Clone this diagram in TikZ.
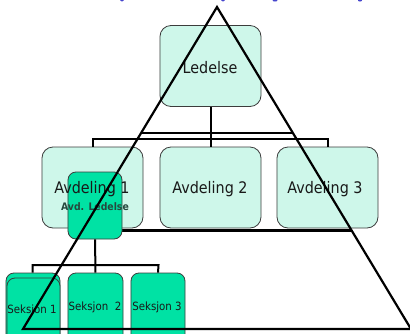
\documentclass[tikz,border=0pt]{standalone}
\usepackage{fontspec}
\setmainfont{DejaVu Sans Condensed}
\definecolor{mint}{RGB}{206,247,234}
\definecolor{seagreen}{RGB}{0,226,164}
\definecolor{boxline}{RGB}{60,60,60}
\definecolor{avdtext}{RGB}{38,72,62}
\definecolor{titleblue}{RGB}{70,70,205}
\tikzset{
  lightbox/.style={draw=boxline, line width=0.8bp, fill=mint, rounded corners=11bp,
    minimum width=101bp, minimum height=81bp, inner sep=0pt},
  darkbox/.style={draw=boxline, line width=0.8bp, fill=seagreen, rounded corners=8bp,
    inner sep=0pt},
  conn/.style={draw=black, line width=2bp},
  tri/.style={draw=black, line width=2.2bp, line join=miter},
  bigtxt/.style={font=\fontsize{16}{18}\selectfont, text=black!90, inner sep=0pt},
  smalltxt/.style={font=\fontsize{11.4}{13}\selectfont, text=black!90, inner sep=0pt},
}
\begin{document}
\begin{tikzpicture}[x=1bp,y=-1bp]
\useasboundingbox (0,0) rectangle (410,334);
\clip (0,0) rectangle (410,334);
% fragments of a cut-off title
\fill[titleblue] (122,0.5) ellipse (1.8bp and 1bp);
\fill[titleblue] (223,0.5) ellipse (1.8bp and 1bp);
\fill[titleblue] (275,0.5) ellipse (2.5bp and 1bp);
\fill[titleblue] (360,0.5) ellipse (2bp and 1bp);

% coordinates of the triangle
\coordinate (apex) at (217,7);
\coordinate (bl) at (23,329);
\coordinate (br) at (411,329);
\coordinate (m1l) at (141,133);
\coordinate (m1r) at (293,133);
\coordinate (m2l) at (82.6,230.5);
\coordinate (m2r) at (351.4,230.5);

% boxes
\node[lightbox] (led) at (210.5,66) {};
\node[lightbox] (av1) at (92.5,187.5) {};
\node[lightbox] (av2) at (210.5,187.5) {};
\node[lightbox] (av3) at (327.5,187.5) {};

% org connectors
\coordinate (j1l) at (92.5,139);
\coordinate (j1r) at (327.5,139);
\draw[conn] (led.south) -- (av2.north);
\draw[conn] (av1.north) -- (j1l) -- (j1r) -- (av3.north);

% lower horizontal line of triangle (behind Avd. Ledelse box)
\draw[tri] (m2l) -- (m2r);

% Avd. Ledelse box
\node[darkbox, minimum width=54bp, minimum height=67bp] (avdl) at (95,205.5) {};

% section boxes
\node[darkbox, minimum width=54bp, minimum height=80bp] (s1a) at (33,313) {};
\node[darkbox, minimum width=53bp, minimum height=80bp] (s1) at (33.5,318) {};
\node[darkbox, minimum width=55bp, minimum height=80bp] (s2) at (95.5,313) {};
\node[darkbox, minimum width=54bp, minimum height=80bp] (s3) at (158,313) {};

\coordinate (j2l) at (32.5,265);
\coordinate (j2r) at (158.5,265);
\draw[conn] (avdl.south) -- (s2.north);
\draw[conn] (s1a.north -| j2l) -- (j2l) -- (j2r) -- (s3.north);

% texts
\node[bigtxt] (tled) at (210,68) {Ledelse};
\node[bigtxt] (tav1) at (92,189) {Avdeling 1};
\node[bigtxt] (tav2) at (210,189) {Avdeling 2};
\node[bigtxt] (tav3) at (325,189) {Avdeling 3};
\node[font=\bfseries\fontsize{10.4}{12}\selectfont, text=avdtext, inner sep=0pt] (tavdl) at (95,207) {Avd. Ledelse};
\node[smalltxt] (ts1) at (32,310) {Seksjon 1};
\node[smalltxt] (ts2) at (95,307) {Seksjon\ \ 2};
\node[smalltxt] (ts3) at (157,307) {Seksjon 3};

% triangle on top
\draw[tri] (bl) -- (apex) -- (br) -- cycle;
\draw[tri] (m1l) -- (m1r);
\end{tikzpicture}
\end{document}
